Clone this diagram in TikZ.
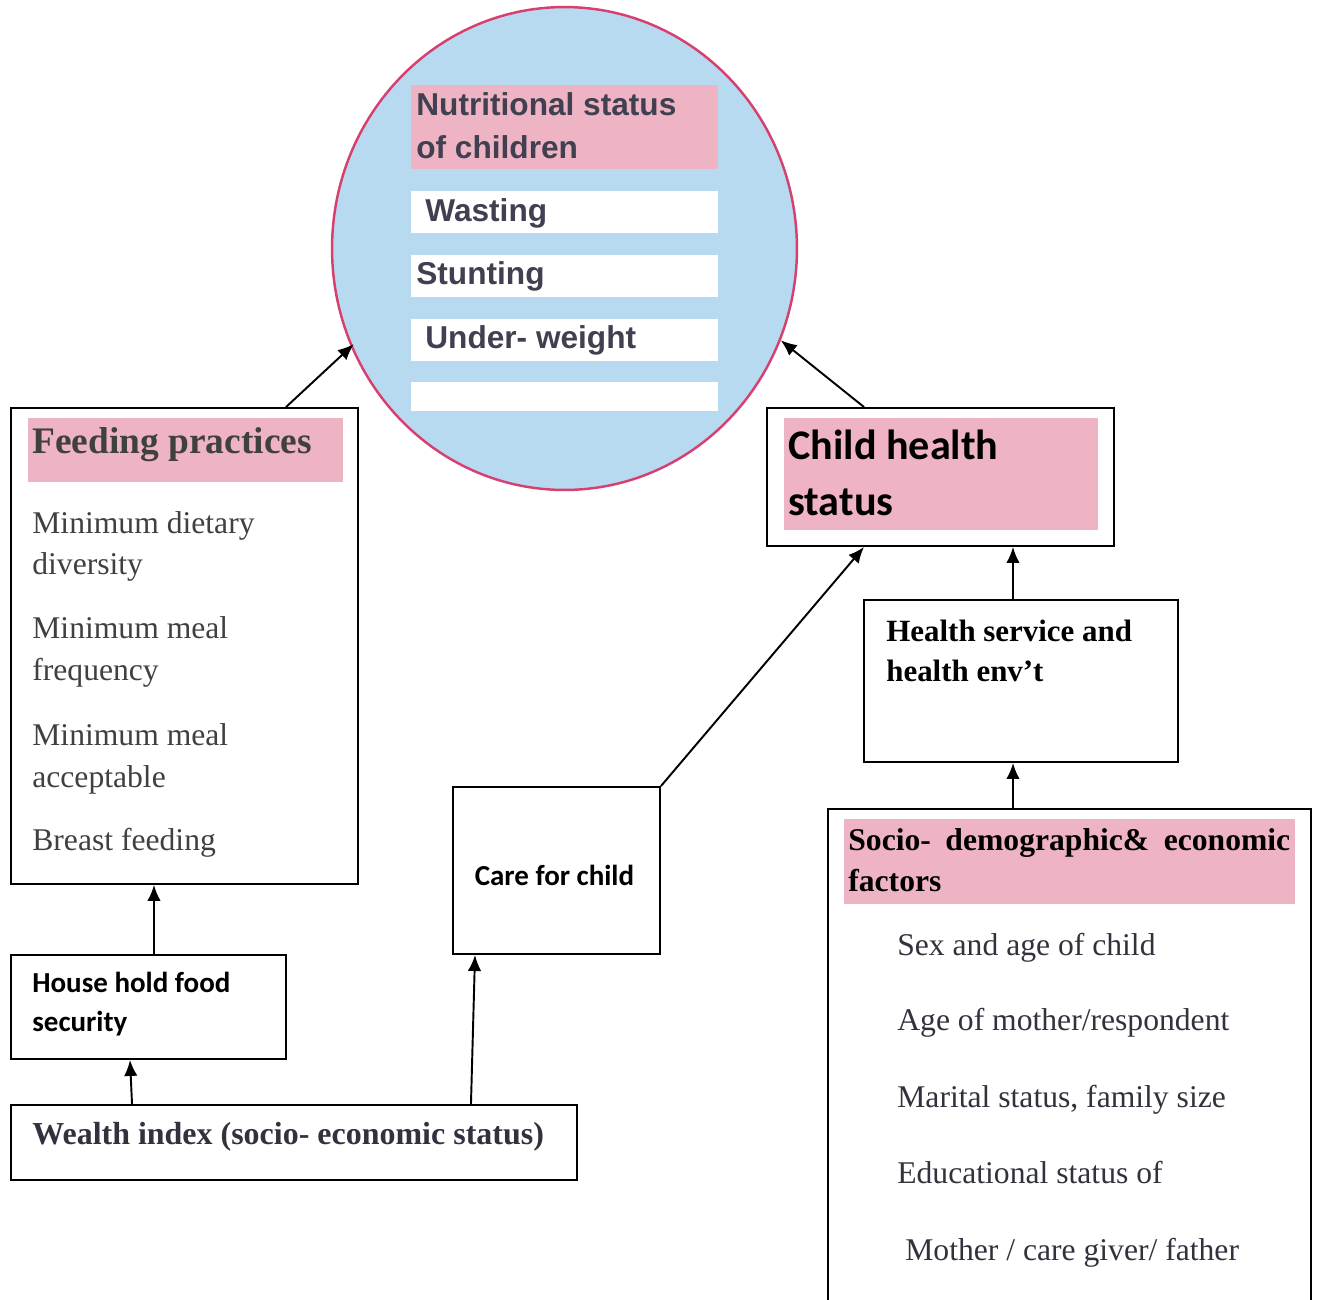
\documentclass[tikz,border=0pt]{standalone}
\usepackage{fontspec}
\setmainfont{Liberation Serif}
\newfontfamily\arialfont{Liberation Sans}
\newfontfamily\calibrifont{Carlito}
\usetikzlibrary{arrows.meta,shapes.geometric}
\definecolor{pinkfill}{RGB}{238,180,196}
\definecolor{bluefill}{RGB}{184,218,240}
\definecolor{ringred}{RGB}{214,64,112}
\definecolor{nutgray}{RGB}{64,64,80}
\definecolor{itemgray}{RGB}{64,64,64}
\definecolor{sociogray}{RGB}{50,50,62}
\tikzset{
	frame/.style={draw, line width=1.1pt, inner sep=0pt},
	band/.style={draw=none, inner sep=0pt},
	arr/.style={-{Latex[length=0.32cm,width=0.27cm]}, line width=1.1pt},
	lbl/.style={anchor=base west, inner sep=0pt}
}

\begin{document}
\begin{tikzpicture}[x=0.02cm,y=-0.02cm]
			\useasboundingbox (0,0) rectangle (1319,1299);

			% Nutritional status circle with its bands
			\node[ellipse, draw=ringred, line width=1.4pt, fill=bluefill, minimum width=9.30cm, minimum height=9.66cm, inner sep=0pt] (nut) at (564.5,248.5) {};
			\node[band, fill=pinkfill, minimum width=6.14cm, minimum height=1.68cm] (nuthead) at (564.5,127) {};
			\node[band, fill=white, minimum width=6.14cm, minimum height=0.84cm] (wasting) at (564.5,212) {};
			\node[band, fill=white, minimum width=6.14cm, minimum height=0.84cm] (stunting) at (564.5,276) {};
			\node[band, fill=white, minimum width=6.14cm, minimum height=0.84cm] (underweight) at (564.5,340) {};
			\node[band, fill=white, minimum width=6.14cm, minimum height=0.58cm] (blankbar) at (564.5,396.5) {};
			\begin{scope}[every node/.style={lbl, text=nutgray, font=\arialfont\bfseries\fontsize{18}{20}\selectfont}]
				\node (nut1) at (416,115) {Nutritional status};
				\node (nut2) at (416,158) {of children};
				\node (nut3) at (425,221) {Wasting};
				\node (nut4) at (416,284) {Stunting};
				\node (nut5) at (425,348) {Under- weight};
			\end{scope}

			% Feeding practices
			\node[frame, minimum width=6.94cm, minimum height=9.52cm] (feed) at (184.5,646) {};
			\node[band, fill=pinkfill, minimum width=6.30cm, minimum height=1.28cm] (feedhead) at (185.5,450) {};
			\node[lbl, text=itemgray, font=\bfseries\fontsize{21.3}{24}\selectfont] (feedtitle) at (32,453) {Feeding practices};
			\foreach \txt/\yy [count=\i] in {Minimum dietary/533, diversity/574, Minimum meal/638, frequency/680, Minimum meal/745, acceptable/787, Breast feeding/850}
				\node[lbl, text=itemgray, font=\fontsize{18}{20}\selectfont] (feed\i) at (32,\yy) {\txt};

			% Child health status
			\node[frame, minimum width=6.94cm, minimum height=2.76cm] (health) at (940.5,477) {};
			\node[band, fill=pinkfill, minimum width=6.28cm, minimum height=2.24cm] (healthhead) at (941,474) {};
			\node[lbl, font=\calibrifont\bfseries\fontsize{24}{28}\selectfont] (health1) at (788,459) {Child health};
			\node[lbl, font=\calibrifont\bfseries\fontsize{24}{28}\selectfont] (health2) at (788,515) {status};

			% Health service
			\node[frame, minimum width=6.28cm, minimum height=3.24cm] (service) at (1021,681) {};
			\node[lbl, font=\bfseries\fontsize{17.6}{20}\selectfont] (service1) at (886,641) {Health service and};
			\node[lbl, font=\bfseries\fontsize{17.6}{20}\selectfont] (service2) at (886,681) {health env’t};

			% Socio-demographic factors
			\node[frame, minimum width=9.66cm, minimum height=10.02cm] (socio) at (1069.5,1059.5) {};
			\node[band, fill=pinkfill, minimum width=9.02cm, minimum height=1.70cm] (sociohead) at (1069.5,861.5) {};
			\node[lbl, font=\bfseries\fontsize{18}{20}\selectfont] (socio1) at (848,850) {\makebox[8.84cm][s]{Socio- demographic\& economic}};
			\node[lbl, font=\bfseries\fontsize{18}{20}\selectfont] (socio2) at (848,891) {factors};
			\foreach \txt/\xx/\yy [count=\i] in {{Sex and age of child}/897/955, {Age of mother/respondent}/897/1030, {Marital status, family size}/897/1107, {Educational status of}/897/1183, {Mother / care giver/ father}/905/1260}
				\node[lbl, text=sociogray, font=\fontsize{18}{20}\selectfont] (item\i) at (\xx,\yy) {\txt};

			% Care for child
			\node[frame, minimum width=4.14cm, minimum height=3.34cm] (care) at (556.5,870.5) {};
			\node[anchor=base, inner sep=0pt, font=\calibrifont\bfseries\fontsize{16.5}{20}\selectfont] (care1) at (554.5,885) {Care for child};

			% Household food security
			\node[frame, minimum width=5.50cm, minimum height=2.08cm] (food) at (148.5,1007) {};
			\node[lbl, font=\calibrifont\bfseries\fontsize{16.5}{20}\selectfont] (food1) at (32,992) {House hold food};
			\node[lbl, font=\calibrifont\bfseries\fontsize{16.5}{20}\selectfont] (food2) at (32,1031) {security};

			% Wealth index
			\node[frame, minimum width=11.32cm, minimum height=1.50cm] (wealth) at (294,1142.5) {};
			\node[lbl, text=sociogray, font=\bfseries\fontsize{18.2}{20}\selectfont] (wealth1) at (32,1144) {Wealth index (socio- economic status)};

			% Arrows
			\draw[arr] ([xshift=2.03cm]feed.north) -- ([xshift=0.08cm]nut.204);
			\draw[arr] ([xshift=-1.53cm]health.north) -- (nut.337);
			\draw[arr] (care.north east) -- ([xshift=-1.53cm]health.south);
			\draw[arr] ([xshift=-0.16cm]service.north) -- ([xshift=1.45cm]health.south);
			\draw[arr] ([xshift=-1.13cm]socio.north) -- ([xshift=-0.16cm]service.south);
			\draw[arr] ([xshift=0.11cm]food.north) -- ([xshift=-0.61cm]feed.south);
			\draw[arr] ([xshift=-3.24cm]wealth.north) -- ([xshift=-0.37cm]food.south);
			\draw[arr] ([xshift=3.54cm]wealth.north) -- ([xshift=-1.63cm]care.south);
		\end{tikzpicture}
\end{document}
